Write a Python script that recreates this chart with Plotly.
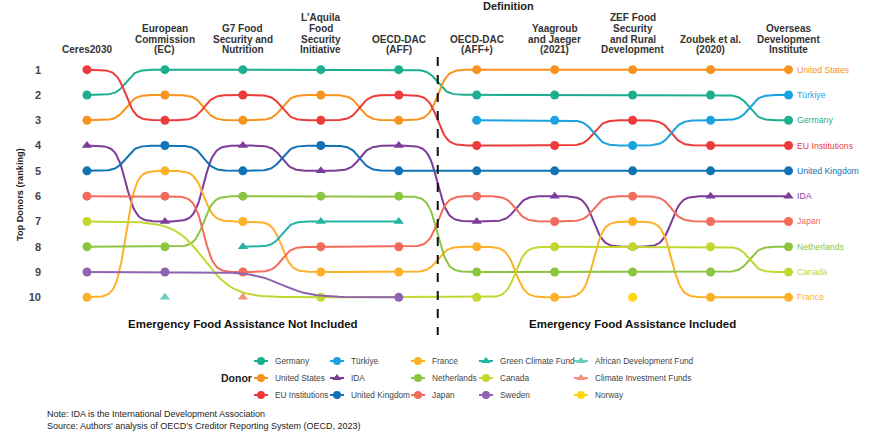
import numpy as np
import plotly.graph_objects as go

# column headers (definitions)
definitions = [
    "Ceres2030",
    "European<br>Commission<br>(EC)",
    "G7 Food<br>Security and<br>Nutrition",
    "L'Aquila<br>Food<br>Security<br>Initiative",
    "OECD-DAC<br>(AFF)",
    "OECD-DAC<br>(AFF+)",
    "Yaagroub<br>and Jaeger<br>(2021)",
    "ZEF Food<br>Security<br>and Rural<br>Development",
    "Zoubek et al.<br>(2020)",
    "Overseas<br>Development<br>Institute",
]

# rankings per definition (None = not in top 10)
germany = [2, 1, 1, 1, 1, 2, 2, 2, 2, 3]
united_states = [3, 2, 3, 2, 3, 1, 1, 1, 1, 1]
eu_institutions = [1, 3, 2, 3, 2, 4, 4, 3, 4, 4]
turkiye = [None, None, None, None, None, 3, 3, 4, 3, 2]
ida = [4, 7, 4, 5, 4, 7, 6, 8, 6, 6]
united_kingdom = [5, 4, 5, 4, 5, 5, 5, 5, 5, 5]
france = [10, 5, 7, 9, 9, 8, 10, 7, 10, 10]
netherlands = [8, 8, 6, 6, 6, 9, 9, 9, 9, 8]
japan = [6, 6, 9, 8, 8, 6, 7, 6, 7, 7]
green_climate_fund = [None, None, 8, 7, 7, None, None, None, None, None]
canada = [7, None, None, 10, None, 10, 8, 8, 8, 9]
sweden = [9, 9, None, None, 10, None, None, None, None, None]
african_dev_fund = [None, 10, None, None, None, None, None, None, None, None]
climate_inv_funds = [None, None, 10, None, None, None, None, None, None, None]
norway = [None, None, None, None, None, None, None, 10, None, None]

# legend order is column-major (3 rows)
donors = [
    ("Germany", germany, "#1DAE8F", "circle"),
    ("United States", united_states, "#F7931E", "circle"),
    ("EU Institutions", eu_institutions, "#EB3B3A", "circle"),
    ("Türkiye", turkiye, "#1AA3DF", "circle"),
    ("IDA", ida, "#7D3C98", "triangle-up"),
    ("United Kingdom", united_kingdom, "#1172B4", "circle"),
    ("France", france, "#FDB128", "circle"),
    ("Netherlands", netherlands, "#8CC540", "circle"),
    ("Japan", japan, "#F26B5B", "circle"),
    ("Green Climate Fund", green_climate_fund, "#22B5A5", "triangle-up"),
    ("Canada", canada, "#C3D730", "circle"),
    ("Sweden", sweden, "#8E63B0", "circle"),
    ("African Development Fund", african_dev_fund, "#6DCDBD", "triangle-up"),
    ("Climate Investment Funds", climate_inv_funds, "#F6907E", "triangle-up"),
    ("Norway", norway, "#FFD50F", "circle"),
]

W, H = 894, 441


def fx(px):
    return px / W


def fy(py):
    return 1 - py / H


def bump_path(ranks, smooth=8, n=60):
    # sigmoid connectors between consecutive ranked points (like ggbump)
    pts = [(i, r) for i, r in enumerate(ranks) if r is not None]
    xs, ys = [], []
    t = np.linspace(-smooth, smooth, n)
    s = 1 / (1 + np.exp(-t))
    s = (s - s.min()) / (s.max() - s.min())
    for (x0, y0), (x1, y1) in zip(pts[:-1], pts[1:]):
        xs.extend(np.linspace(x0, x1, n))
        ys.extend(y0 + (y1 - y0) * s)
    return xs, ys


font = "Liberation Sans, Arial, sans-serif"
dark = "#333333"

fig = go.Figure()
for name, ranks, color, symbol in donors:
    xs, ys = bump_path(ranks)
    if xs:
        fig.add_trace(go.Scatter(x=xs, y=ys, mode="lines", line=dict(color=color, width=2),
                                 showlegend=False, hoverinfo="skip"))
    px_ = [i for i, r in enumerate(ranks) if r is not None]
    py_ = [r for r in ranks if r is not None]
    fig.add_trace(go.Scatter(x=px_, y=py_, mode="markers", name=name,
                             marker=dict(color=color, size=9, symbol=symbol),
                             showlegend=False))

# legend keys drawn on a full-figure helper axis (pixel units)
leg_cols = [261, 337, 418, 486, 581]
leg_rows = [361, 378, 395]
for k, (name, ranks, color, symbol) in enumerate(donors):
    cx, cy = leg_cols[k // 3], leg_rows[k % 3]
    fig.add_trace(go.Scatter(x=[cx - 7, cx + 7], y=[cy, cy], mode="lines",
                             line=dict(color=color, width=2), xaxis="x2", yaxis="y2",
                             showlegend=False, hoverinfo="skip"))
    fig.add_trace(go.Scatter(x=[cx], y=[cy], mode="markers", xaxis="x2", yaxis="y2",
                             marker=dict(color=color, size=8, symbol=symbol),
                             showlegend=False, hoverinfo="skip"))
    fig.add_annotation(x=cx, y=cy, xref="x2", yref="y2", xanchor="left", yanchor="middle",
                       xshift=12, text=name, showarrow=False,
                       font=dict(size=8.3, color="#444", family=font))

# headers: one annotation per line for a tight line spacing
line_gap = 10.8
for i, d in enumerate(definitions):
    lines = d.split("<br>")
    for j, ln in enumerate(reversed(lines)):
        fig.add_annotation(x=i, y=fy(50 - j * line_gap), yref="paper",
                           xanchor="center", yanchor="middle",
                           text=f"<b>{ln}</b>", showarrow=False,
                           font=dict(size=10, color=dark, family=font))

fig.add_annotation(x=fx(508), y=fy(6), xref="paper", yref="paper",
                   xanchor="center", yanchor="middle", text="<b>Definition</b>",
                   showarrow=False, font=dict(size=11, color="#222", family=font))

# right-side labels
for name, ranks, color, symbol in donors:
    if ranks[-1] is not None:
        fig.add_annotation(x=9, y=ranks[-1], xanchor="left", yanchor="middle", xshift=6,
                           text=name, showarrow=False,
                           font=dict(size=8.7, color=color, family=font))

for cx, label in [(2, "Emergency Food Assistance Not Included"),
                  (7, "Emergency Food Assistance Included")]:
    fig.add_annotation(x=cx, y=fy(324), yref="paper", xanchor="center", yanchor="middle",
                       text=f"<b>{label}</b>", showarrow=False,
                       font=dict(size=11.5, color="#111", family=font))

fig.add_shape(type="line", x0=4.5, x1=4.5, y0=fy(57), y1=fy(335), yref="paper",
              line=dict(color="#111", width=2, dash="dash"))

fig.add_annotation(x=fx(20), y=fy(195), xref="paper", yref="paper", textangle=-90,
                   xanchor="center", yanchor="middle",
                   text="<b>Top Donors (ranking)</b>", showarrow=False,
                   font=dict(size=9.2, color="#222", family=font))

fig.add_annotation(x=fx(236), y=fy(378), xref="paper", yref="paper",
                   xanchor="center", yanchor="middle",
                   text="<b>Donor</b>", showarrow=False,
                   font=dict(size=10.5, color="#222", family=font))

fig.add_annotation(x=fx(45), y=fy(420), xref="paper", yref="paper", xanchor="left",
                   yanchor="middle", align="left",
                   text="Note: IDA is the International Development Association<br>"
                        "Source: Authors' analysis of OECD's Creditor Reporting System (OECD, 2023)",
                   showarrow=False, font=dict(size=9, color="#222", family=font))

fig.update_layout(
    width=W, height=H,
    margin=dict(l=0, r=0, t=0, b=0, autoexpand=False),
    plot_bgcolor="rgba(0,0,0,0)", paper_bgcolor="white",
    font=dict(family=font, color=dark),
    showlegend=False,
    xaxis=dict(domain=[fx(48), fx(808)], range=[-0.5, 9.25], showgrid=False, zeroline=False,
               showticklabels=False, showline=False),
    yaxis=dict(domain=[fy(310), fy(57)], range=[10.5, 0.5], showgrid=False, zeroline=False,
               tickvals=list(range(1, 11)),
               ticktext=[f"<b>{i}</b>" for i in range(1, 11)],
               tickfont=dict(size=11, color="#444"), automargin=False,
               ticklabelstandoff=6),
    xaxis2=dict(domain=[0, 1], range=[0, W], anchor="y2", visible=False),
    yaxis2=dict(domain=[0, 1], range=[H, 0], anchor="x2", visible=False),
)

# remove the page's default body margin so the figure sits at the window origin
fig.write_html("out.html", config={"displayModeBar": False},
               post_script="document.body.style.margin='0';")
